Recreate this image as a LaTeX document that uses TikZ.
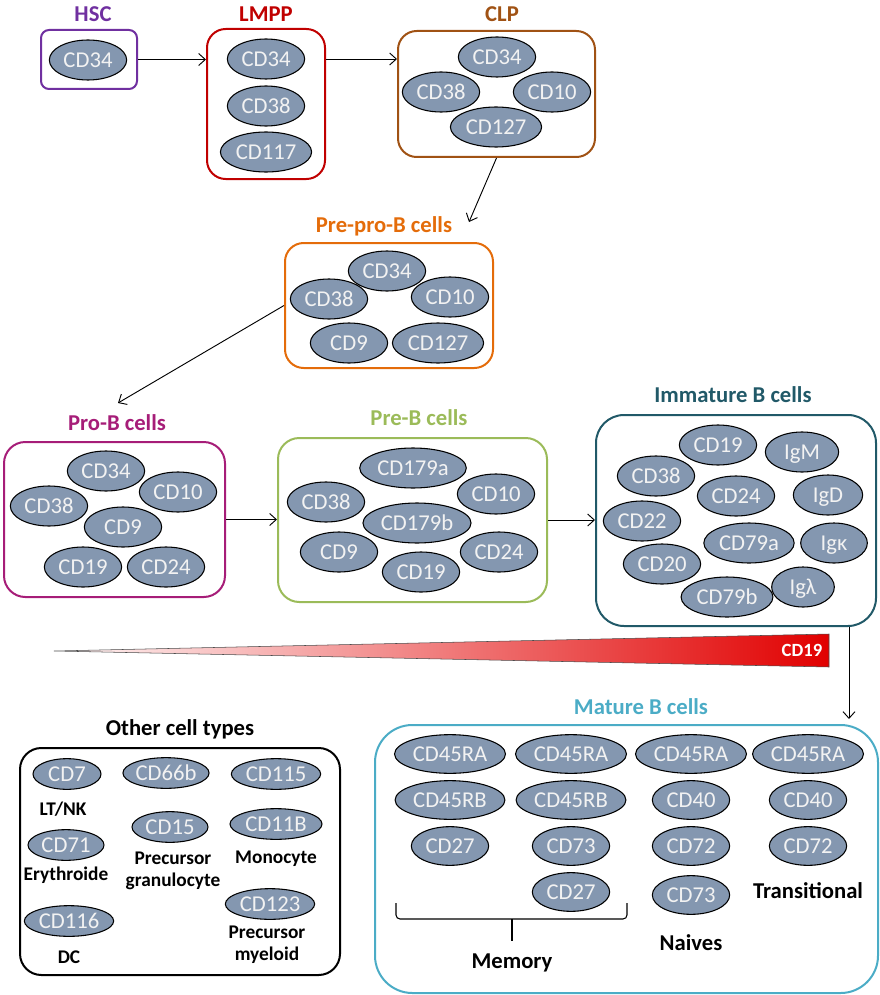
\documentclass[tikz,border=0pt]{standalone}
\usepackage{fontspec}
\setmainfont{Carlito}
\usetikzlibrary{arrows.meta,positioning,shapes.geometric,fit}
\definecolor{hsccol}{RGB}{112,48,160}
\definecolor{lmppcol}{RGB}{192,0,0}
\definecolor{clpcol}{RGB}{160,82,20}
\definecolor{ppbcol}{RGB}{228,108,10}
\definecolor{probcol}{RGB}{166,29,120}
\definecolor{prebcol}{RGB}{155,187,89}
\definecolor{immcol}{RGB}{33,89,104}
\definecolor{matcol}{RGB}{75,172,198}
\definecolor{cdfill}{RGB}{132,151,176}
\definecolor{cdtext}{RGB}{242,242,242}
\definecolor{barred}{RGB}{225,0,0}
\tikzset{
  >={Straight Barb[length=5pt,width=9pt]},
  stage/.style={draw=#1,line width=1.5pt,rounded corners=14pt,inner sep=0pt},
  stage/.default=black,
  title/.style={text=#1,font=\fontsize{17}{20}\selectfont\bfseries,anchor=base},
  cd/.style={ellipse,draw=black,line width=0.8pt,fill=cdfill,text=cdtext,
    font=\fontsize{17}{20}\selectfont,inner xsep=1.5pt,inner ysep=0pt,
    minimum height=30pt,minimum width=58pt,text height=11pt,text depth=0pt},
  cdsmall/.style={cd,inner xsep=0pt,minimum height=23pt,minimum width=#1},
  note/.style={font=\fontsize{14.5}{16.5}\selectfont\bfseries,align=center,anchor=base},
  group/.style={font=\fontsize{17}{20}\selectfont\bfseries,anchor=base},
  flow/.style={->,line width=0.7pt},
}
\begin{document}
\begin{tikzpicture}[x=0.75pt,y=-0.75pt]
  \useasboundingbox (0,0) rectangle (880,995);
  % stages
  \node[stage=hsccol,rounded corners=6pt,fit={(41,30) (137,89)}] (hsc) {};
  \node[stage=lmppcol,fit={(207,29) (325,179)}] (lmpp) {};
  \node[stage=clpcol,fit={(398,31) (595,157)}] (clp) {};
  \node[stage=ppbcol,fit={(285,243) (493,368)}] (ppb) {};
  \node[stage=probcol,rounded corners=16pt,fit={(4,442) (225,597)}] (prob) {};
  \node[stage=prebcol,rounded corners=16pt,fit={(278,438) (547,602)}] (preb) {};
  \node[stage=immcol,rounded corners=21pt,fit={(596,415) (876,626)}] (imm) {};
  \node[stage,rounded corners=16pt,fit={(20,748) (340,975)}] (oth) {};
  \node[stage=matcol,rounded corners=28pt,fit={(375,725) (878,993)}] (mat) {};
  % titles
  \node[title=hsccol] (hsc-t) at (93,21.5) {HSC};
  \node[title=lmppcol] (lmpp-t) at (266,21.5) {LMPP};
  \node[title=clpcol] (clp-t) at (502,21.5) {CLP};
  \node[title=ppbcol] (ppb-t) at (384,232.5) {Pre-pro-B cells};
  \node[title=probcol] (prob-t) at (117,430.5) {Pro-B cells};
  \node[title=prebcol] (preb-t) at (419,425.5) {Pre-B cells};
  \node[title=immcol] (imm-t) at (733,402.5) {Immature B cells};
  \node[title=matcol] (mat-t) at (641,714.5) {Mature B cells};
  \node[title=black] (oth-t) at (180,735.5) {Other cell types};
  % markers
  \node[cd] (hsc-1) at (88,60) {CD34};
  \foreach \x/\y/\t [count=\i] in {266/59/CD34,266/106/CD38,266/152/CD117}
    \node[cd] (lmpp-\i) at (\x,\y) {\t};
  \foreach \x/\y/\t [count=\i] in {497/57/CD34,441/92/CD38,552/92/CD10,496/127/CD127}
    \node[cd] (clp-\i) at (\x,\y) {\t};
  \foreach \x/\y/\t [count=\i] in {387/271/CD34,329/299/CD38,450/297/CD10,349/343/CD9,438/343/CD127}
    \node[cd] (ppb-\i) at (\x,\y) {\t};
  \foreach \x/\y/\t [count=\i] in {106/471/CD34,178/492/CD10,49/506/CD38,123/527/CD9,83/567/CD19,166/567/CD24}
    \node[cd] (prob-\i) at (\x,\y) {\t};
  \foreach \x/\y/\t [count=\i] in {413/468/CD179a,496/494/CD10,326/502/CD38,417/523/CD179b,339/552/CD9,499/552/CD24,421/572/CD19}
    \node[cd] (preb-\i) at (\x,\y) {\t};
  \foreach \x/\y/\t [count=\i] in {718/445/CD19,656/476/CD38,736/496/CD24,642/521/CD22,749/543/CD79a,662/564/CD20,727/597/CD79b}
    \node[cd] (imm-\i) at (\x,\y) {\t};
  \foreach \x/\y/\w/\t [count=\i] in {802/452/55pt/IgM,828/495/52pt/IgD,834/543/50pt/Igκ,803/587/47pt/Igλ}
    \node[cd,minimum width=\w] (ig-\i) at (\x,\y) {\t};
  % mature columns
  \foreach \x/\y/\t [count=\i] in {450/754/CD45RA,450/800/CD45RB,450/846/CD27,
      571/754/CD45RA,571/800/CD45RB,571/846/CD73,571/892/CD27,
      691/754/CD45RA,691/800/CD40,691/846/CD72,691/895/CD73,
      808/754/CD45RA,808/800/CD40,808/846/CD72}
    \node[cd,minimum height=29pt] (mat-\i) at (\x,\y) {\t};
  \node[group] (trans) at (808,898) {Transitional};
  \node[group] (naive) at (691,950) {Naives};
  \node[group] (memo) at (512,968) {Memory};
  \draw[line width=0.8pt,rounded corners=3pt] (396,903) |- (512,919) -| (627,903);
  \draw[line width=0.8pt] (512,919) -- (512,941);
  % other cell types
  \foreach \x/\y/\w/\t [count=\i] in {67/774/51pt/CD7,166/773/60pt/CD66b,276/774/67pt/CD115,
      170/827/57pt/CD15,276/824/69pt/CD11B,66/845/57pt/CD71,69/921/67pt/CD116,270/904/67pt/CD123}
    \node[cdsmall=\w] (oth-\i) at (\x,\y) {\t};
  \node[note] (ltnk) at (63,815) {LT/NK};
  \node[note] (ery) at (66,880) {Erythroide};
  \node[note] (gran) at (173,886) {Precursor\\granulocyte};
  \node[note] (mono) at (276,863) {Monocyte};
  \node[note] (dc) at (69,963) {DC};
  \node[note] (myel) at (267,960) {Precursor\\myeloid};
  % CD19 gradient
  \shade[left color=red!3,right color=barred] (54,651) -- (829,634) -- (829,667) -- cycle;
  \draw[black!70,line width=0.4pt] (54,651) -- (829,634) -- (829,667) -- cycle;
  \node[text=white,font=\fontsize{14}{14}\selectfont\bfseries] (cd19) at (802,650) {CD19};
  % flow
  \coordinate (ppb-in) at (469,222);
  \coordinate (prob-in) at (118,403);
  \coordinate (mat-in) at (849,719);
  \draw[flow] (hsc.east) -- (hsc.east -| lmpp.west);
  \draw[flow] (lmpp.east |- lmpp-1) -- (clp.west |- lmpp-1);
  \draw[flow] (clp.south) -- (ppb-in);
  \draw[flow] (ppb.west) -- (prob-in);
  \draw[flow] (prob.east) -- (prob.east -| preb.west);
  \draw[flow] (preb.east) -- (preb.east -| imm.west);
  \draw[flow] (imm.south -| mat-in) -- (mat-in);
\end{tikzpicture}
\end{document}
